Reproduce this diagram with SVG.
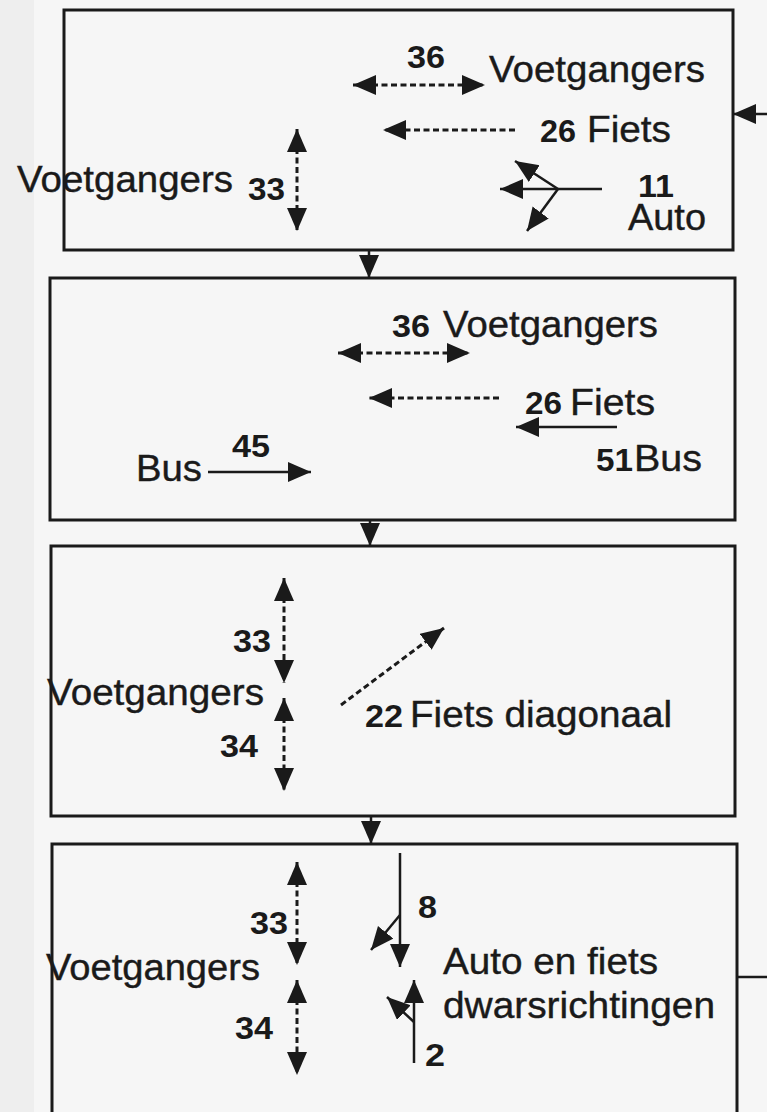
<svg xmlns="http://www.w3.org/2000/svg" width="767" height="1112" viewBox="0 0 767 1112">
<style>
.box{fill:none;stroke:#1a1a1a;stroke-width:3}
.t{font-family:"Liberation Sans",Arial,sans-serif;font-size:36px;fill:#1a1a1a;stroke:#1a1a1a;stroke-width:0.4}
.n{font-family:"Liberation Sans",Arial,sans-serif;font-size:32px;font-weight:bold;fill:#1a1a1a}
.s{fill:none;stroke:#1a1a1a;stroke-width:2.5}
.d{fill:none;stroke:#1a1a1a;stroke-width:3;stroke-dasharray:6 3.5}
.a{marker-end:url(#ah)}
.aa{marker-start:url(#ah);marker-end:url(#ah)}
</style>
<defs>
<marker id="ah" markerUnits="userSpaceOnUse" markerWidth="26" markerHeight="22" refX="23" refY="10" orient="auto-start-reverse">
<path d="M0,0 L23,10 L0,20 Z" fill="#1a1a1a"/>
</marker>
</defs>
<rect x="0" y="0" width="767" height="1112" fill="#f6f6f6"/>
<rect x="0" y="0" width="34" height="1112" fill="#eeeeee"/>

<g id="box1">
<rect class="box" x="64" y="10" width="669" height="240"/>
<text class="n" x="407" y="68" textLength="38" lengthAdjust="spacingAndGlyphs">36</text>
<text class="t" x="489" y="82" textLength="216" lengthAdjust="spacingAndGlyphs">Voetgangers</text>
<text class="n" x="540" y="142" textLength="36" lengthAdjust="spacingAndGlyphs">26</text>
<text class="t" x="587" y="142" textLength="84" lengthAdjust="spacingAndGlyphs">Fiets</text>
<text class="t" x="17" y="192" textLength="216" lengthAdjust="spacingAndGlyphs">Voetgangers</text>
<text class="n" x="248" y="200" textLength="37" lengthAdjust="spacingAndGlyphs">33</text>
<text class="n" x="638" y="197" textLength="36" lengthAdjust="spacingAndGlyphs">11</text>
<text class="t" x="628" y="230" textLength="78" lengthAdjust="spacingAndGlyphs">Auto</text>
</g>

<g id="box2">
<rect class="box" x="50" y="278" width="685" height="242"/>
<text class="n" x="392" y="337" textLength="38" lengthAdjust="spacingAndGlyphs">36</text>
<text class="t" x="443" y="337" textLength="215" lengthAdjust="spacingAndGlyphs">Voetgangers</text>
<text class="n" x="525" y="414" textLength="37" lengthAdjust="spacingAndGlyphs">26</text>
<text class="t" x="570" y="415" textLength="85" lengthAdjust="spacingAndGlyphs">Fiets</text>
<text class="n" x="596" y="471" textLength="37" lengthAdjust="spacingAndGlyphs">51</text>
<text class="t" x="634" y="471" textLength="68" lengthAdjust="spacingAndGlyphs">Bus</text>
<text class="n" x="232" y="457" textLength="38" lengthAdjust="spacingAndGlyphs">45</text>
<text class="t" x="136" y="481" textLength="66" lengthAdjust="spacingAndGlyphs">Bus</text>
</g>

<g id="box3">
<rect class="box" x="51" y="546" width="684" height="270"/>
<text class="n" x="233" y="652" textLength="38" lengthAdjust="spacingAndGlyphs">33</text>
<text class="t" x="47" y="705" textLength="217" lengthAdjust="spacingAndGlyphs">Voetgangers</text>
<text class="n" x="220" y="757" textLength="38" lengthAdjust="spacingAndGlyphs">34</text>
<text class="n" x="365" y="727" textLength="38" lengthAdjust="spacingAndGlyphs">22</text>
<text class="t" x="410" y="727" textLength="262" lengthAdjust="spacingAndGlyphs">Fiets diagonaal</text>
</g>

<g id="box4">
<rect class="box" x="52" y="844" width="685" height="280"/>
<text class="n" x="250" y="934" textLength="38" lengthAdjust="spacingAndGlyphs">33</text>
<text class="t" x="46" y="980" textLength="214" lengthAdjust="spacingAndGlyphs">Voetgangers</text>
<text class="n" x="235" y="1039" textLength="38" lengthAdjust="spacingAndGlyphs">34</text>
<text class="n" x="418" y="918" textLength="19" lengthAdjust="spacingAndGlyphs">8</text>
<text class="t" x="443" y="974" textLength="215" lengthAdjust="spacingAndGlyphs">Auto en fiets</text>
<text class="t" x="443" y="1018" textLength="272" lengthAdjust="spacingAndGlyphs">dwarsrichtingen</text>
<text class="n" x="425" y="1066" textLength="20" lengthAdjust="spacingAndGlyphs">2</text>
</g>

<g id="connectors">
<line class="s a" x1="369" y1="250" x2="369" y2="278"/>
<line class="s a" x1="370" y1="520" x2="370" y2="546"/>
<line class="s a" x1="371" y1="816" x2="371" y2="844"/>
<line class="s a" x1="767" y1="114" x2="733" y2="114"/>
<line class="s" x1="737" y1="977" x2="767" y2="977"/>
<line class="d aa" x1="353" y1="85" x2="485" y2="85"/>
<line class="d a" x1="515" y1="130" x2="383" y2="130"/>
<line class="d aa" x1="297" y1="129" x2="297" y2="231"/>
<line class="s a" x1="602" y1="189" x2="500" y2="189"/>
<line class="s a" x1="558" y1="189" x2="515" y2="161"/>
<line class="s a" x1="558" y1="189" x2="527" y2="231"/>
<line class="d aa" x1="338" y1="353" x2="470" y2="353"/>
<line class="d a" x1="499" y1="398" x2="369" y2="398"/>
<line class="s a" x1="617" y1="427" x2="516" y2="427"/>
<line class="s a" x1="208" y1="472" x2="311" y2="472"/>
<line class="d aa" x1="284" y1="578" x2="284" y2="683"/>
<line class="d aa" x1="284" y1="698" x2="284" y2="791"/>
<line class="d a" x1="341" y1="705" x2="444" y2="628"/>
<line class="d aa" x1="297" y1="862" x2="297" y2="965"/>
<line class="d aa" x1="297" y1="980" x2="297" y2="1075"/>
<line class="s a" x1="400" y1="853" x2="400" y2="967"/>
<line class="s a" x1="400" y1="915" x2="371" y2="950"/>
<line class="s a" x1="414" y1="1063" x2="414" y2="980"/>
<line class="s a" x1="414" y1="1022" x2="387" y2="997"/>
</g>
</svg>
